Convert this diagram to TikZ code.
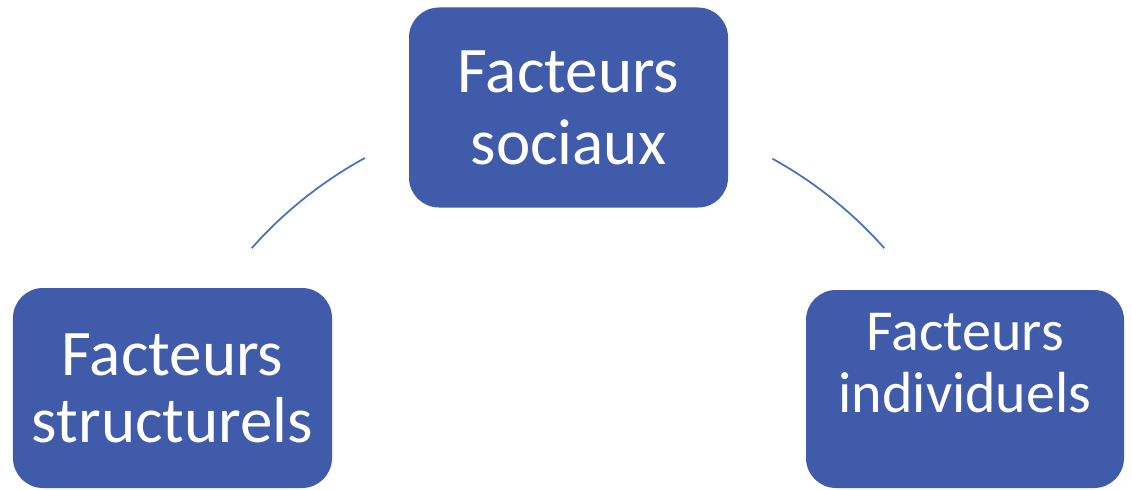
\documentclass[tikz,border=0pt]{standalone}
\usepackage{fontspec}
\setmainfont{Carlito}
\definecolor{boxblue}{HTML}{3F5BAA}
\definecolor{arcblue}{HTML}{4472C4}
\tikzset{
  facteur/.style={draw=none, fill=boxblue, rounded corners=0.6cm, text=white,
    minimum width=6.38cm, minimum height=4cm, align=center, inner sep=0pt},
  cycle/.style={draw=arcblue, line width=1pt}
}
\begin{document}
\begin{tikzpicture}
  \useasboundingbox (0,0) rectangle (22.64,9.78);
  \draw
    (11.37,7.63) node[facteur, font=\fontsize{37}{41}\selectfont] (soc){Facteurs\\sociaux}
    (3.45,2.02) node[facteur, font=\fontsize{37}{38}\selectfont] (str){Facteurs\\structurels}
    (19.3,2.0) node[facteur, minimum width=6.36cm, minimum height=3.96cm, text depth=1.05cm,
      font=\fontsize{33}{35}\selectfont] (ind){Facteurs\\individuels};
  \coordinate (hub) at (11.36,-0.8);
  \begin{scope}[cycle]
    \draw ([shift={(138.4:8.46)}]hub) arc[start angle=138.4, end angle=118.7, radius=8.46];
    \draw ([shift={(61.1:8.46)}]hub) arc[start angle=61.1, end angle=41.6, radius=8.46];
  \end{scope}
\end{tikzpicture}
\end{document}
